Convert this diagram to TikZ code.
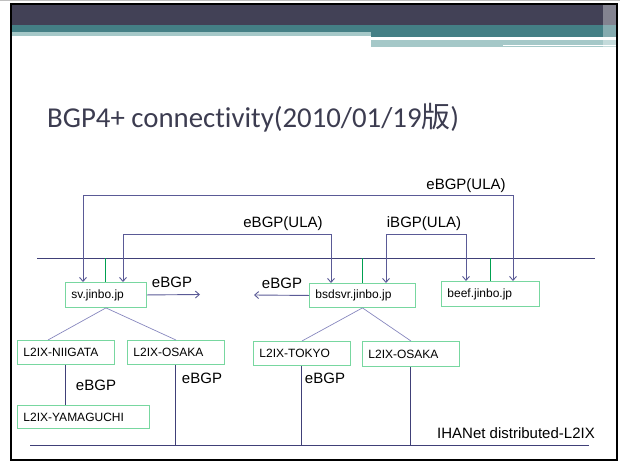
\documentclass[tikz,border=0pt]{standalone}
\usepackage{fontspec}
\setmainfont{Liberation Sans}
\newfontfamily\titlefont[Ligatures=NoCommon]{Carlito}
\newfontfamily\cjk{Noto Sans CJK JP}
\usetikzlibrary{calc,arrows.meta}

\definecolor{barDark}{RGB}{66,65,86}
\definecolor{barTeal}{RGB}{68,127,133}
\definecolor{barLight}{RGB}{165,200,200}
\definecolor{titleGray}{RGB}{60,60,80}
\definecolor{boxGreen}{RGB}{120,215,160}
\definecolor{stubGreen}{RGB}{0,160,80}
\definecolor{busBlue}{RGB}{64,64,120}
\definecolor{linkBlue}{RGB}{90,90,150}
\definecolor{treeBlue}{RGB}{135,135,190}

\begin{document}
\begin{tikzpicture}[x=1pt, y=-1pt, >={Straight Barb[length=4pt,width=7pt]}]
    \tikzstyle{every node}=[inner sep=0pt]
    \tikzstyle{box}=[draw=boxGreen, line width=0.9pt, anchor=north west, inner xsep=6pt, align=left, font=\fontsize{12}{14}\selectfont]
    \tikzstyle{lbl}=[anchor=base, font=\fontsize{15}{18}\selectfont]
    \tikzstyle{bus}=[busBlue, line width=1pt]
    \tikzstyle{link}=[linkBlue, line width=0.9pt]
    \tikzstyle{tree}=[treeBlue, line width=0.7pt]
    \tikzstyle{stub}=[stubGreen, line width=1pt]
    \useasboundingbox (0,0) rectangle (620,461);

    % slide header and frame
    \fill[gray!50] (0,0) rectangle (620,1.3);
    \fill[barDark] (11,5) rectangle (617,25);
    \fill[barTeal] (11,25) rectangle (617,32);
    \fill[barTeal] (371,32) rectangle (617,37);
    \fill[barLight] (11,32) rectangle (371,36);
    \fill[barLight] (371,39.5) rectangle (617,47);
    \draw[white, line width=1pt] (503,45.5) -- (617,45.5);
    \fill[white, opacity=0.35] (603,5) rectangle (616,47);
    \draw[line width=2pt] (11,4) rectangle (617,460);

    \draw (47,127) node[anchor=base west, text=titleGray, font=\titlefont\fontsize{28.8}{34}\selectfont] (title) {BGP4+ connectivity(2010/01/19{\cjk 版})};

    % segments
    \draw[bus] (37,258) coordinate (topL) -- (595,258) coordinate (topR);
    \draw[bus] (30,445) coordinate (botL) -- (589,445) coordinate (botR);

    % routers
    \draw (65,282) node[box, text width=69pt, minimum height=25pt] (sv) {sv.jinbo.jp};
    \draw (309,283) node[box, text width=94pt, minimum height=24pt] (bsdsvr) {bsdsvr.jinbo.jp};
    \draw (441,281) node[box, text width=86pt, minimum height=25pt] (beef) {beef.jinbo.jp};

    % L2IX points
    \draw (17,340) node[box, text width=85pt, minimum height=24pt] (niigata) {L2IX-NIIGATA};
    \draw (127,340) node[box, text width=85pt, minimum height=24pt] (osakaA) {L2IX-OSAKA};
    \draw (17,405) node[box, text width=120pt, minimum height=23pt] (yamaguchi) {L2IX-YAMAGUCHI};
    \draw (253,341) node[box, text width=85pt, minimum height=24pt] (tokyo) {L2IX-TOKYO};
    \draw (362,341) node[box, text width=85pt, minimum height=25pt] (osakaB) {L2IX-OSAKA};

    % attach to upper segment
    \draw[stub] (sv.north) -- (sv.north |- topL);
    \draw[stub] (bsdsvr.north) -- (bsdsvr.north |- topL);
    \draw[stub] (beef.north) -- (beef.north |- topL);

    % ULA sessions
    \draw[link, <->] ($(sv.north west)+(18,0)$) |- (513,195) -- ($(beef.north west)+(72,0)$);
    \draw[link, <->] ($(sv.north west)+(58,0)$) |- (331,234) -- ($(bsdsvr.north west)+(22,0)$);
    \draw[link, <->] ($(bsdsvr.north west)+(77,0)$) |- (466,234) -- ($(beef.north west)+(25,0)$);
    \draw (466,189) node[lbl] (ulaA) {eBGP(ULA)};
    \draw (283,227) node[lbl] (ulaB) {eBGP(ULA)};
    \draw (424,227) node[lbl] (ulaC) {iBGP(ULA)};

    % eBGP to the outside
    \coordinate (svOut) at (200,294.5);
    \coordinate (bsdOut) at (254,295);
    \draw[link, ->] (sv.east) -- (svOut);
    \draw[link, ->] (bsdsvr.west) -- (bsdOut);
    \draw (172,287) node[lbl] (outA) {eBGP};
    \draw (282,288) node[lbl] (outB) {eBGP};

    % L2IX tree
    \draw[tree] (sv.south) -- ($(niigata.north)+(-18,0)$);
    \draw[tree] (sv.south) -- (osakaA.north);
    \draw[tree] (bsdsvr.south) -- (tokyo.north);
    \draw[tree] (bsdsvr.south) -- (osakaB.north);

    \draw[bus] (niigata.south) -- (niigata.south |- yamaguchi.north);
    \draw[bus] (osakaA.south) -- (osakaA.south |- botL);
    \draw[bus] (tokyo.south) -- (tokyo.south |- botL);
    \draw[bus] (osakaB.south) -- (osakaB.south |- botL);
    \draw (96,390) node[lbl] (ixA) {eBGP};
    \draw (202,383) node[lbl] (ixB) {eBGP};
    \draw (325,383) node[lbl] (ixC) {eBGP};
    \draw (516,438) node[lbl] (ihanet) {IHANet distributed-L2IX};
\end{tikzpicture}
\end{document}
